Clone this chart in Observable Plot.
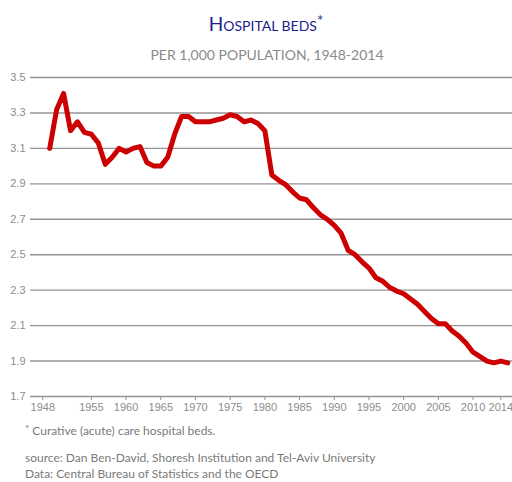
<!DOCTYPE html>
<html><head><meta charset="utf-8">
<script src="https://cdn.jsdelivr.net/npm/d3@7"></script>
<script src="https://cdn.jsdelivr.net/npm/@observablehq/plot@0.6"></script>
<style>
body{margin:0;background:#fff;width:512px;height:482px;position:relative;overflow:hidden;font-family:Lato,"Open Sans",sans-serif}
#title{position:absolute;left:0;width:532px;top:14px;text-align:center;color:#1c1c8c;line-height:20px;white-space:nowrap}
#title .big{font-size:19px}
#title .small{font-size:14px}
#title sup{font-size:15px;vertical-align:5px;line-height:0}
#subtitle{position:absolute;left:0;width:534px;top:47px;text-align:center;color:#8a8a8a;font-size:14px;line-height:16px;white-space:nowrap}
#chart{position:absolute;left:0;top:66px}
.note{position:absolute;left:25px;color:#7a7a7a;font-size:12px;line-height:14px;white-space:nowrap}
.note sup{font-size:10px;vertical-align:3px;line-height:0}
</style></head><body>
<div id="title"><span class="big">H</span><span class="small">OSPITAL BEDS</span><sup>*</sup></div>
<div id="subtitle">PER 1,000 POPULATION, 1948-2014</div>
<div id="chart"></div>
<div class="note" style="top:424px"><sup>*</sup> Curative (acute) care hospital beds.</div>
<div class="note" style="top:451px">source: Dan Ben-David, Shoresh Institution and Tel-Aviv University</div>
<div class="note" style="top:467px">Data: Central Bureau of Statistics and the OECD</div>
<script>
const years = [1949,1950,1951,1952,1953,1954,1955,1956,1957,1958,1959,1960,1961,1962,1963,1964,1965,1966,1967,1968,1969,1970,1971,1972,1973,1974,1975,1976,1977,1978,1979,1980,1981,1982,1983,1984,1985,1986,1987,1988,1989,1990,1991,1992,1993,1994,1995,1996,1997,1998,1999,2000,2001,2002,2003,2004,2005,2006,2007,2008,2009,2010,2011,2012,2013,2014,2015];
const beds = [3.10,3.32,3.41,3.20,3.25,3.19,3.18,3.13,3.01,3.05,3.10,3.08,3.10,3.11,3.02,3.00,3.00,3.05,3.18,3.28,3.28,3.25,3.25,3.25,3.26,3.27,3.29,3.28,3.25,3.26,3.24,3.20,2.95,2.92,2.895,2.855,2.82,2.81,2.765,2.725,2.70,2.665,2.62,2.525,2.50,2.46,2.425,2.37,2.35,2.315,2.295,2.28,2.25,2.22,2.18,2.14,2.11,2.11,2.07,2.04,2.00,1.95,1.925,1.90,1.89,1.90,1.89];
const yTicks = [1.7,1.9,2.1,2.3,2.5,2.7,2.9,3.1,3.3,3.5];
const xTicks = [1948,1955,1960,1965,1970,1975,1980,1985,1990,1995,2000,2005,2010,2014];
const data = years.map((year, i) => ({year, beds: beds[i]}));
const chart = Plot.plot({
  width: 512, height: 350,
  marginTop: 11, marginBottom: 20, marginLeft: 30, marginRight: 0,
  x: {domain: [1946.23, 2015.68], label: null},
  y: {domain: [1.7, 3.5], label: null},
  style: {fontFamily: "'Liberation Sans', Arial, sans-serif", fontSize: "11px", color: "#8c8c8c", background: "transparent", overflow: "visible"},
  marks: [
    Plot.gridY(yTicks, {stroke: "#949494", strokeOpacity: 1, strokeWidth: 1.4}),
    Plot.axisY(yTicks, {tickSize: 0, tickPadding: 5, tickFormat: d => d.toFixed(1), fill: "#8c8c8c", label: null}),
    Plot.axisX(xTicks, {tickSize: 4, tickPadding: 3, tickFormat: d => String(d), stroke: "#949494", fill: "#8c8c8c", label: null}),
    Plot.lineY(data, {x: "year", y: "beds", stroke: "#cc0000", strokeWidth: 5, strokeLinejoin: "round"})
  ]
});
document.getElementById("chart").appendChild(chart);
</script>
</body></html>
